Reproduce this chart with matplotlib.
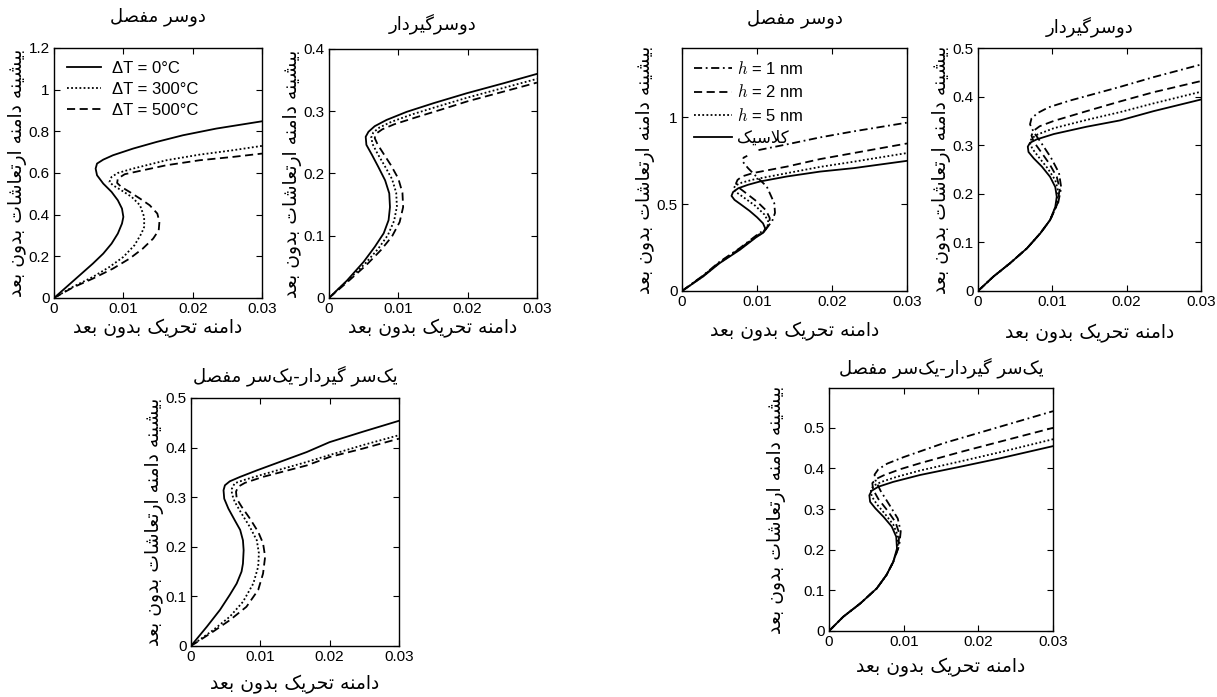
import numpy as np
import matplotlib.pyplot as plt
from matplotlib.ticker import FuncFormatter

# =============================================================================
# Persian text: matplotlib has no shaping, so pick presentation forms by hand
# =============================================================================
# letter -> (isolated, final, initial, medial); 2-form letters never join forward
FORMS = {
    'ا': ('\uFE8D', '\uFE8E'),
    'ب': ('\uFE8F', '\uFE90', '\uFE91', '\uFE92'),
    'ت': ('\uFE95', '\uFE96', '\uFE97', '\uFE98'),
    'ح': ('\uFEA1', '\uFEA2', '\uFEA3', '\uFEA4'),
    'د': ('\uFEA9', '\uFEAA'),
    'ر': ('\uFEAD', '\uFEAE'),
    'س': ('\uFEB1', '\uFEB2', '\uFEB3', '\uFEB4'),
    'ش': ('\uFEB5', '\uFEB6', '\uFEB7', '\uFEB8'),
    'ص': ('\uFEB9', '\uFEBA', '\uFEBB', '\uFEBC'),
    'ع': ('\uFEC9', '\uFECA', '\uFECB', '\uFECC'),
    'ف': ('\uFED1', '\uFED2', '\uFED3', '\uFED4'),
    'ل': ('\uFEDD', '\uFEDE', '\uFEDF', '\uFEE0'),
    'م': ('\uFEE1', '\uFEE2', '\uFEE3', '\uFEE4'),
    'ن': ('\uFEE5', '\uFEE6', '\uFEE7', '\uFEE8'),
    'ه': ('\uFEE9', '\uFEEA', '\uFEEB', '\uFEEC'),
    'و': ('\uFEED', '\uFEEE'),
    'ک': ('\uFB8E', '\uFB8F', '\uFB90', '\uFB91'),
    'گ': ('\uFB92', '\uFB93', '\uFB94', '\uFB95'),
    'ی': ('\uFBFC', '\uFBFD', '\uFBFE', '\uFBFF'),
}


def fa(text):
    """Shape a Persian string and put it in visual (left-to-right) order"""
    out = []
    i = 0
    n = len(text)
    while i < n:
        c = text[i]
        if c not in FORMS:
            if c != '\u200c':
                out.append(c)
            i += 1
            continue
        prev = text[i - 1] if i > 0 else ''
        joins_prev = prev in FORMS and len(FORMS[prev]) == 4
        if c == 'ل' and i + 1 < n and text[i + 1] == 'ا':
            out.append('\uFEFC' if joins_prev else '\uFEFB')
            i += 2
            continue
        nxt = text[i + 1] if i + 1 < n else ''
        joins_next = len(FORMS[c]) == 4 and nxt in FORMS
        f = FORMS[c]
        if joins_prev and joins_next:
            out.append(f[3])
        elif joins_next:
            out.append(f[2])
        elif joins_prev:
            out.append(f[1])
        else:
            out.append(f[0])
        i += 1
    return ''.join(reversed(out))


# =============================================================================
# Data, curves traced along the S-shaped response
# =============================================================================
nan = np.nan

title_hh = 'دوسر مفصل'
title_cc = 'دوسرگیردار'
title_ch = 'یک\u200cسر گیردار-یک\u200cسر مفصل'
xlabel_fa = 'دامنه تحریک بدون بعد'
ylabel_fa = 'بیشینه دامنه ارتعاشات بدون بعد'

temp_labels = ['ΔT = 0°C', 'ΔT = 300°C', 'ΔT = 500°C']
size_labels = [r'$h$ = 1 nm', r'$h$ = 2 nm', r'$h$ = 5 nm', 'کلاسیک']

# --- hinged-hinged, temperature ---
hh_T0_x = [0, 0.0018, 0.0037, 0.0056, 0.0071, 0.0083, 0.0092, 0.0098, 0.0100, 0.0098, 0.0092,
           0.0083, 0.0071, 0.0062, 0.0060, 0.0062, 0.0071, 0.0085, 0.0114, 0.0148, 0.0186,
           0.0234, 0.0300]
hh_T0_y = [0, 0.053, 0.109, 0.165, 0.213, 0.261, 0.309, 0.357, 0.389, 0.429, 0.469,
           0.509, 0.549, 0.589, 0.621, 0.645, 0.664, 0.685, 0.717, 0.749, 0.781,
           0.813, 0.848]
hh_T300_x = [0, 0.0027, 0.0056, 0.0080, 0.0100, 0.0116, 0.0126, 0.0130, 0.0130, 0.0124, 0.0112,
             0.0097, 0.0085, 0.0080, 0.0083, 0.0092, 0.0114, 0.0162, 0.0210, 0.0258, 0.0300]
hh_T300_y = [0, 0.053, 0.101, 0.149, 0.197, 0.253, 0.309, 0.341, 0.389, 0.445, 0.485,
             0.517, 0.541, 0.557, 0.581, 0.600, 0.621, 0.661, 0.688, 0.709, 0.730]
hh_T500_x = [0, 0.0027, 0.0056, 0.0085, 0.0109, 0.0128, 0.0143, 0.0151, 0.0152, 0.0149, 0.0138,
             0.0124, 0.0109, 0.0097, 0.0091, 0.0092, 0.0102, 0.0124, 0.0162, 0.0210, 0.0258,
             0.0300]
hh_T500_y = [0, 0.050, 0.093, 0.141, 0.189, 0.237, 0.285, 0.325, 0.365, 0.405, 0.445,
             0.477, 0.509, 0.533, 0.552, 0.573, 0.594, 0.610, 0.637, 0.661, 0.677,
             0.693]

# --- clamped-clamped, temperature ---
cc_T0_x = [0, 0.0026, 0.0050, 0.0066, 0.0079, 0.0086, 0.0088, 0.0087, 0.0081, 0.0071, 0.0062,
           0.0054, 0.0053, 0.0057, 0.0066, 0.0083, 0.0112, 0.0151, 0.0199, 0.0252, 0.0300]
cc_T0_y = [0, 0.028, 0.058, 0.082, 0.104, 0.125, 0.146, 0.168, 0.189, 0.211, 0.230,
           0.246, 0.259, 0.267, 0.276, 0.286, 0.299, 0.313, 0.329, 0.345, 0.360]
cc_T300_x = [0, 0.0026, 0.0052, 0.0071, 0.0085, 0.0094, 0.0098, 0.0097, 0.0091, 0.0080, 0.0070,
             0.0063, 0.0061, 0.0064, 0.0073, 0.0090, 0.0120, 0.0155, 0.0200, 0.0250, 0.0300]
cc_T300_y = [0, 0.027, 0.055, 0.079, 0.101, 0.124, 0.147, 0.169, 0.191, 0.213, 0.232,
             0.247, 0.258, 0.266, 0.274, 0.283, 0.295, 0.307, 0.322, 0.337, 0.352]
cc_T500_x = [0, 0.0027, 0.0054, 0.0075, 0.0091, 0.0102, 0.0107, 0.0106, 0.0100, 0.0089, 0.0078,
             0.0070, 0.0066, 0.0068, 0.0077, 0.0094, 0.0125, 0.0160, 0.0200, 0.0250, 0.0300]
cc_T500_y = [0, 0.026, 0.053, 0.077, 0.099, 0.122, 0.146, 0.169, 0.192, 0.214, 0.233,
             0.247, 0.257, 0.264, 0.271, 0.279, 0.290, 0.302, 0.316, 0.331, 0.346]

# --- clamped-hinged, temperature ---
ch_T0_x = [0, 0.0023, 0.0042, 0.0056, 0.0066, 0.0073, 0.0075, 0.0076, 0.0075, 0.0071, 0.0063,
           0.0054, 0.0048, 0.0047, 0.0049, 0.0056, 0.0071, 0.0095, 0.0128, 0.0167, 0.0200,
           0.0248, 0.0300]
ch_T0_y = [0, 0.039, 0.073, 0.103, 0.126, 0.150, 0.166, 0.193, 0.213, 0.234, 0.254,
           0.277, 0.297, 0.314, 0.324, 0.332, 0.341, 0.354, 0.371, 0.391, 0.411,
           0.432, 0.454]
ch_T300_x = [0, 0.0032, 0.0056, 0.0075, 0.0090, 0.0097, 0.0098, 0.0095, 0.0085, 0.0073, 0.0063,
             0.0059, 0.0059, 0.0063, 0.0075, 0.0104, 0.0167, 0.0200, 0.0248, 0.0300]
ch_T300_y = [0, 0.032, 0.059, 0.089, 0.126, 0.160, 0.187, 0.213, 0.240, 0.267, 0.291,
             0.307, 0.317, 0.328, 0.334, 0.346, 0.371, 0.385, 0.405, 0.425]
ch_T500_x = [0, 0.0032, 0.0056, 0.0080, 0.0097, 0.0104, 0.0107, 0.0104, 0.0097, 0.0085, 0.0073,
             0.0066, 0.0065, 0.0068, 0.0078, 0.0104, 0.0167, 0.0200, 0.0248, 0.0300]
ch_T500_y = [0, 0.029, 0.052, 0.079, 0.113, 0.146, 0.180, 0.207, 0.230, 0.257, 0.281,
             0.297, 0.311, 0.321, 0.329, 0.341, 0.364, 0.381, 0.398, 0.418]

# --- hinged-hinged, size effect ---
hh_h1_x = [0, 0.0028, 0.0050, 0.0077, 0.0099, 0.0112, 0.0120, 0.0124, 0.0123, 0.0113, 0.0099,
           0.0088, 0.0081, 0.0082, 0.0087, nan, 0.0102, 0.0140, 0.0184, 0.0229, 0.0300]
hh_h1_y = [0, 0.089, 0.168, 0.247, 0.320, 0.360, 0.400, 0.450, 0.506, 0.602, 0.660,
           0.708, 0.745, 0.768, 0.779, nan, 0.812, 0.845, 0.885, 0.920, 0.970]
hh_h2_x = [0, 0.0028, 0.0050, 0.0077, 0.0099, 0.0110, 0.0116, 0.0117, 0.0112, 0.0100, 0.0085,
           0.0075, 0.0072, 0.0074, 0.0080, 0.0095, 0.0140, 0.0184, 0.0229, 0.0300]
hh_h2_y = [0, 0.087, 0.165, 0.243, 0.316, 0.345, 0.380, 0.420, 0.465, 0.515, 0.565,
           0.598, 0.620, 0.640, 0.660, 0.680, 0.717, 0.760, 0.795, 0.850]
hh_h5_x = [0, 0.0028, 0.0050, 0.0077, 0.0099, 0.0109, 0.0114, 0.0115, 0.0110, 0.0098, 0.0082,
           0.0072, 0.0069, 0.0071, 0.0080, 0.0095, 0.0140, 0.0184, 0.0229, 0.0300]
hh_h5_y = [0, 0.085, 0.163, 0.240, 0.313, 0.340, 0.370, 0.400, 0.440, 0.490, 0.540,
           0.570, 0.590, 0.608, 0.625, 0.642, 0.679, 0.715, 0.745, 0.795]
hh_cl_x = [0, 0.0028, 0.0050, 0.0077, 0.0099, 0.0108, 0.0111, 0.0108, 0.0100, 0.0090, 0.0079,
           0.0070, 0.0066, 0.0068, 0.0075, 0.0088, 0.0104, 0.0140, 0.0184, 0.0229, 0.0300]
hh_cl_y = [0, 0.083, 0.160, 0.237, 0.310, 0.335, 0.360, 0.390, 0.425, 0.462, 0.497,
           0.525, 0.548, 0.570, 0.592, 0.612, 0.631, 0.660, 0.688, 0.708, 0.750]

# --- clamped-clamped, size effect ---
cc_h1_x = [0, 0.0021, 0.0043, 0.0066, 0.0084, 0.0097, 0.0108, 0.0112, 0.0109, 0.0098, 0.0085,
           0.0075, 0.0070, 0.0072, 0.0080, 0.0095, 0.0124, 0.0191, 0.0236, 0.0300]
cc_h1_y = [0, 0.030, 0.057, 0.088, 0.119, 0.146, 0.182, 0.213, 0.243, 0.275, 0.305,
           0.327, 0.343, 0.355, 0.366, 0.378, 0.392, 0.420, 0.440, 0.466]
cc_h2_x = [0, 0.0021, 0.0043, 0.0066, 0.0084, 0.0097, 0.0107, 0.0110, 0.0106, 0.0096, 0.0084,
           0.0075, 0.0072, 0.0075, 0.0083, 0.0102, 0.0146, 0.0191, 0.0236, 0.0300]
cc_h2_y = [0, 0.030, 0.057, 0.088, 0.119, 0.146, 0.180, 0.210, 0.235, 0.262, 0.288,
           0.307, 0.320, 0.330, 0.339, 0.350, 0.370, 0.390, 0.409, 0.432]
cc_h5_x = [0, 0.0021, 0.0043, 0.0066, 0.0084, 0.0097, 0.0106, 0.0108, 0.0104, 0.0094, 0.0082,
           0.0073, 0.0070, 0.0072, 0.0080, 0.0102, 0.0146, 0.0191, 0.0236, 0.0300]
cc_h5_y = [0, 0.030, 0.057, 0.088, 0.119, 0.146, 0.178, 0.205, 0.228, 0.252, 0.275,
           0.293, 0.305, 0.314, 0.322, 0.335, 0.352, 0.368, 0.386, 0.410]
cc_cl_x = [0, 0.0021, 0.0043, 0.0066, 0.0084, 0.0097, 0.0104, 0.0106, 0.0104, 0.0097, 0.0086,
           0.0075, 0.0068, 0.0067, 0.0070, 0.0079, 0.0102, 0.0146, 0.0191, 0.0236, 0.0300]
cc_cl_y = [0, 0.030, 0.057, 0.088, 0.119, 0.146, 0.173, 0.194, 0.214, 0.235, 0.256,
           0.273, 0.286, 0.297, 0.305, 0.312, 0.323, 0.338, 0.351, 0.370, 0.394]

# --- clamped-hinged, size effect ---
ch_h1_x = [0, 0.0019, 0.0042, 0.0064, 0.0077, 0.0086, 0.0094, 0.0096, 0.0092, 0.0081, 0.0069,
           0.0062, 0.0061, 0.0066, 0.0078, 0.0100, 0.0153, 0.0220, 0.0300]
ch_h1_y = [0, 0.035, 0.068, 0.105, 0.138, 0.170, 0.210, 0.245, 0.277, 0.310, 0.345,
           0.372, 0.385, 0.398, 0.412, 0.428, 0.462, 0.498, 0.541]
ch_h2_x = [0, 0.0019, 0.0042, 0.0064, 0.0077, 0.0086, 0.0093, 0.0094, 0.0089, 0.0078, 0.0066,
           0.0059, 0.0058, 0.0063, 0.0073, 0.0095, 0.0122, 0.0175, 0.0229, 0.0300]
ch_h2_y = [0, 0.035, 0.068, 0.105, 0.138, 0.170, 0.207, 0.240, 0.268, 0.297, 0.325,
           0.348, 0.364, 0.374, 0.383, 0.398, 0.413, 0.440, 0.466, 0.500]
ch_h5_x = [0, 0.0019, 0.0042, 0.0064, 0.0077, 0.0086, 0.0092, 0.0092, 0.0086, 0.0075, 0.0064,
           0.0057, 0.0056, 0.0060, 0.0070, 0.0090, 0.0122, 0.0175, 0.0229, 0.0300]
ch_h5_y = [0, 0.035, 0.068, 0.105, 0.138, 0.170, 0.205, 0.235, 0.262, 0.288, 0.312,
           0.332, 0.348, 0.358, 0.367, 0.379, 0.395, 0.417, 0.440, 0.472]
ch_cl_x = [0, 0.0019, 0.0042, 0.0064, 0.0077, 0.0086, 0.0091, 0.0090, 0.0084, 0.0073, 0.0062,
           0.0055, 0.0054, 0.0057, 0.0066, 0.0086, 0.0122, 0.0175, 0.0229, 0.0300]
ch_cl_y = [0, 0.035, 0.068, 0.105, 0.138, 0.170, 0.203, 0.232, 0.257, 0.281, 0.302,
           0.318, 0.334, 0.345, 0.355, 0.367, 0.384, 0.404, 0.425, 0.455]

# =============================================================================
# Styling
# =============================================================================
plt.rcParams['font.family'] = ['Liberation Sans', 'DejaVu Sans']
plt.rcParams['mathtext.fontset'] = 'cm'

LW = 1.3
SOLID = '-'
DOT = (0, (1, 1.3))
DASH = (0, (4.5, 2.5))
DASHDOT = (0, (4.5, 2, 1, 2))

FA_FONT = 'DejaVu Sans'
fmt = FuncFormatter(lambda v, pos: '%g' % round(v, 4))


def style_axes(ax, ymax, yticks, title, tpad, xpad, ypad):
    ax.set_xlim(0, 0.03)
    ax.set_ylim(0, ymax)
    ax.set_xticks([0, 0.01, 0.02, 0.03])
    ax.set_yticks(yticks)
    ax.xaxis.set_major_formatter(fmt)
    ax.yaxis.set_major_formatter(fmt)
    ax.tick_params(direction='in', top=True, right=True, length=4, width=0.8,
                   labelsize=11, pad=3)
    for s in ax.spines.values():
        s.set_linewidth(1.0)
    ax.set_title(fa(title), family=FA_FONT, fontsize=13, pad=tpad)
    ax.set_xlabel(fa(xlabel_fa), family=FA_FONT, fontsize=13.5, labelpad=xpad)
    ax.set_ylabel(fa(ylabel_fa), family=FA_FONT, fontsize=13.5, labelpad=ypad)


fig = plt.figure(figsize=(12.17, 6.97), dpi=100)

ax1 = fig.add_axes([0.0444, 0.5725, 0.1709, 0.3587])
ax2 = fig.add_axes([0.2703, 0.5725, 0.1709, 0.3572])
ax3 = fig.add_axes([0.5604, 0.5825, 0.1849, 0.3486])
ax4 = fig.add_axes([0.8036, 0.5825, 0.1832, 0.3486])
ax5 = fig.add_axes([0.1569, 0.0732, 0.1709, 0.3558])
ax6 = fig.add_axes([0.6812, 0.0947, 0.1841, 0.3486])

# temperature panels
for ax, curves in [(ax1, [(hh_T0_x, hh_T0_y), (hh_T300_x, hh_T300_y), (hh_T500_x, hh_T500_y)]),
                   (ax2, [(cc_T0_x, cc_T0_y), (cc_T300_x, cc_T300_y), (cc_T500_x, cc_T500_y)]),
                   (ax5, [(ch_T0_x, ch_T0_y), (ch_T300_x, ch_T300_y), (ch_T500_x, ch_T500_y)])]:
    for (x, y), ls, lab in zip(curves, [SOLID, DOT, DASH], temp_labels):
        ax.plot(x, y, color='black', lw=LW, linestyle=ls, label=lab)

# size-effect panels
for ax, curves in [(ax3, [(hh_h1_x, hh_h1_y), (hh_h2_x, hh_h2_y), (hh_h5_x, hh_h5_y), (hh_cl_x, hh_cl_y)]),
                   (ax4, [(cc_h1_x, cc_h1_y), (cc_h2_x, cc_h2_y), (cc_h5_x, cc_h5_y), (cc_cl_x, cc_cl_y)]),
                   (ax6, [(ch_h1_x, ch_h1_y), (ch_h2_x, ch_h2_y), (ch_h5_x, ch_h5_y), (ch_cl_x, ch_cl_y)])]:
    for (x, y), ls, lab in zip(curves, [DASHDOT, DASH, DOT, SOLID], size_labels):
        ax.plot(x, y, color='black', lw=LW, linestyle=ls, label=lab)

style_axes(ax1, 1.2, [0, 0.2, 0.4, 0.6, 0.8, 1.0, 1.2], title_hh, 19, 2, 1)
style_axes(ax2, 0.4, [0, 0.1, 0.2, 0.3, 0.4], title_cc, 14, 2, 1)
style_axes(ax3, 1.4, [0, 0.5, 1.0], title_hh, 18, 9, 1)
style_axes(ax4, 0.5, [0, 0.1, 0.2, 0.3, 0.4, 0.5], title_cc, 11, 11, 1)
style_axes(ax5, 0.5, [0, 0.1, 0.2, 0.3, 0.4, 0.5], title_ch, 12, 8, 1)
style_axes(ax6, 0.598, [0, 0.1, 0.2, 0.3, 0.4, 0.5], title_ch, 10.5, 6, 13)

# legends
ax1.legend(loc='upper left', frameon=False, handlelength=2.0,
           handletextpad=0.7, labelspacing=0.35, borderaxespad=0.4,
           prop={'family': ['Liberation Sans', 'DejaVu Sans'], 'size': 12})

h3, l3 = ax3.get_legend_handles_labels()
l3 = l3[:3] + [fa(l3[3])]
ax3.legend(h3, l3, loc='upper left', frameon=False, handlelength=2.3,
           handletextpad=0.3, labelspacing=0.4, borderaxespad=0.3,
           prop={'family': ['Liberation Sans', 'DejaVu Sans'], 'size': 12})

plt.savefig('out.png', dpi=100)
